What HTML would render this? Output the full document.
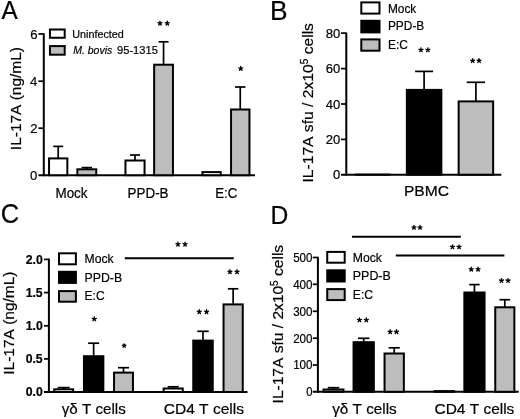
<!DOCTYPE html>
<html><head><meta charset="utf-8"><style>
html,body{margin:0;padding:0;background:#fff;overflow:hidden;}
svg{display:block;filter:grayscale(100%);}
text{font-family:"Liberation Sans", sans-serif;fill:#000;font-kerning:none;stroke:#000;stroke-width:0.2px;}
</style></head><body>
<svg width="520" height="419" viewBox="0 0 520 419">
<rect width="520" height="419" fill="#fff"/>
<text font-size="26.02" transform="translate(1.45,19.40) scale(0.933,1)">A</text>
<line x1="43.80" y1="33.20" x2="43.80" y2="176.20" stroke="#000" stroke-width="2.0"/>
<line x1="38.40" y1="175.20" x2="255.00" y2="175.20" stroke="#000" stroke-width="2.0"/>
<line x1="38.40" y1="34.00" x2="43.80" y2="34.00" stroke="#000" stroke-width="1.7"/>
<line x1="38.40" y1="81.20" x2="43.80" y2="81.20" stroke="#000" stroke-width="1.7"/>
<line x1="38.40" y1="128.20" x2="43.80" y2="128.20" stroke="#000" stroke-width="1.7"/>
<text font-size="13.5" font-weight="normal" transform="translate(30.19,38.65) scale(0.970,1)">6</text>
<text font-size="13.5" font-weight="normal" transform="translate(30.00,85.85) scale(0.970,1)">4</text>
<text font-size="13.5" font-weight="normal" transform="translate(30.28,132.85) scale(0.970,1)">2</text>
<text font-size="13.5" font-weight="normal" transform="translate(29.93,179.80) scale(0.970,1)">0</text>
<text font-size="15.5" transform="translate(21.20,150.13) rotate(-90) scale(0.998,1)">IL-17A (ng/mL)</text>
<rect x="49.95" y="29.50" width="14.75" height="8.25" fill="#fff" stroke="#000" stroke-width="2.0"/>
<rect x="49.95" y="46.10" width="14.75" height="8.60" fill="#bdbdbd" stroke="#000" stroke-width="2.0"/>
<text font-size="11.6" font-weight="normal" font-style="normal" transform="translate(72.17,37.60) scale(0.933,1)">Uninfected</text>
<text font-size="11.6" font-weight="normal" font-style="italic" transform="translate(73.18,54.30) scale(0.906,1)">M. bovis</text>
<text font-size="11.6" font-weight="normal" font-style="normal" transform="translate(117.08,54.30) scale(0.958,1)">95-1315</text>
<line x1="58.20" y1="158.40" x2="58.20" y2="146.40" stroke="#000" stroke-width="1.7"/>
<line x1="53.20" y1="146.40" x2="63.20" y2="146.40" stroke="#000" stroke-width="1.7"/>
<rect x="49.05" y="158.40" width="18.30" height="16.80" fill="#fff" stroke="#000" stroke-width="2.0"/>
<line x1="86.80" y1="169.30" x2="86.80" y2="167.60" stroke="#000" stroke-width="1.7"/>
<line x1="81.60" y1="167.60" x2="92.00" y2="167.60" stroke="#000" stroke-width="1.7"/>
<rect x="77.35" y="169.30" width="18.90" height="5.90" fill="#bdbdbd" stroke="#000" stroke-width="2.0"/>
<line x1="135.00" y1="160.50" x2="135.00" y2="155.00" stroke="#000" stroke-width="1.7"/>
<line x1="130.00" y1="155.00" x2="140.00" y2="155.00" stroke="#000" stroke-width="1.7"/>
<rect x="125.45" y="160.50" width="19.10" height="14.70" fill="#fff" stroke="#000" stroke-width="2.0"/>
<line x1="163.55" y1="64.70" x2="163.55" y2="41.80" stroke="#000" stroke-width="1.7"/>
<line x1="158.55" y1="41.80" x2="168.55" y2="41.80" stroke="#000" stroke-width="1.7"/>
<rect x="154.15" y="64.70" width="18.80" height="110.50" fill="#bdbdbd" stroke="#000" stroke-width="2.0"/>
<rect x="202.45" y="172.10" width="18.30" height="3.10" fill="#fff" stroke="#000" stroke-width="2.0"/>
<line x1="240.25" y1="109.50" x2="240.25" y2="87.00" stroke="#000" stroke-width="1.7"/>
<line x1="235.00" y1="87.00" x2="245.50" y2="87.00" stroke="#000" stroke-width="1.7"/>
<rect x="231.05" y="109.50" width="18.40" height="65.70" fill="#bdbdbd" stroke="#000" stroke-width="2.0"/>
<path d="M159.95 23.34L159.95 21.27M159.95 23.34L161.93 22.70M159.95 23.34L161.17 25.02M159.95 23.34L158.73 25.03M159.95 23.34L157.98 22.70" stroke="#000" stroke-width="1.35" stroke-linecap="round" fill="none"/>
<path d="M167.25 23.34L167.25 21.27M167.25 23.34L169.22 22.70M167.25 23.34L168.47 25.02M167.25 23.34L166.03 25.03M167.25 23.34L165.27 22.70" stroke="#000" stroke-width="1.35" stroke-linecap="round" fill="none"/>
<path d="M240.75 68.54L240.75 66.47M240.75 68.54L242.72 67.90M240.75 68.54L241.97 70.23M240.75 68.54L239.53 70.23M240.75 68.54L238.78 67.90" stroke="#000" stroke-width="1.35" stroke-linecap="round" fill="none"/>
<text font-size="14" font-weight="normal" font-style="normal" transform="translate(55.45,198.20) scale(0.961,1)">Mock</text>
<text font-size="14" font-weight="normal" font-style="normal" transform="translate(127.50,198.10) scale(0.961,1)">PPD-B</text>
<text font-size="14" font-weight="normal" font-style="normal" transform="translate(215.21,198.00) scale(0.949,1)">E:C</text>
<text font-size="26.89" transform="translate(270.00,19.70) scale(0.981,1)">B</text>
<line x1="346.30" y1="32.60" x2="346.30" y2="175.70" stroke="#000" stroke-width="2.0"/>
<line x1="341.00" y1="174.70" x2="501.30" y2="174.70" stroke="#000" stroke-width="2.0"/>
<line x1="341.00" y1="33.10" x2="346.30" y2="33.10" stroke="#000" stroke-width="1.7"/>
<line x1="341.00" y1="68.60" x2="346.30" y2="68.60" stroke="#000" stroke-width="1.7"/>
<line x1="341.00" y1="104.00" x2="346.30" y2="104.00" stroke="#000" stroke-width="1.7"/>
<line x1="341.00" y1="139.40" x2="346.30" y2="139.40" stroke="#000" stroke-width="1.7"/>
<text font-size="13.5" font-weight="normal" transform="translate(325.75,37.75) scale(0.970,1)">80</text>
<text font-size="13.5" font-weight="normal" transform="translate(325.75,73.25) scale(0.970,1)">60</text>
<text font-size="13.5" font-weight="normal" transform="translate(325.75,108.65) scale(0.970,1)">40</text>
<text font-size="13.5" font-weight="normal" transform="translate(325.75,144.05) scale(0.970,1)">20</text>
<text font-size="13.5" font-weight="normal" transform="translate(333.03,179.30) scale(0.970,1)">0</text>
<text font-size="15.5" transform="translate(313.00,182.55) rotate(-90) scale(1.010,1)">IL-17A sfu / 2x10<tspan font-size="10" dy="-5.5">5</tspan><tspan dy="5.5"> cells</tspan></text>
<rect x="361.30" y="2.40" width="18.20" height="11.20" fill="#fff" stroke="#000" stroke-width="2.0"/>
<rect x="361.30" y="20.80" width="18.20" height="11.60" fill="#000" stroke="#000" stroke-width="2.0"/>
<rect x="361.30" y="39.40" width="18.20" height="11.30" fill="#bdbdbd" stroke="#000" stroke-width="2.0"/>
<text font-size="12.6" font-weight="normal" font-style="normal" transform="translate(387.93,12.60) scale(0.942,1)">Mock</text>
<text font-size="12.6" font-weight="normal" font-style="normal" transform="translate(387.92,30.20) scale(0.945,1)">PPD-B</text>
<text font-size="12.6" font-weight="normal" font-style="normal" transform="translate(387.92,48.60) scale(0.949,1)">E:C</text>
<rect x="355.65" y="174.60" width="33.70" height="0.10" fill="#fff" stroke="#000" stroke-width="2.0"/>
<line x1="424.10" y1="89.90" x2="424.10" y2="71.40" stroke="#000" stroke-width="1.7"/>
<line x1="415.10" y1="71.40" x2="433.10" y2="71.40" stroke="#000" stroke-width="1.7"/>
<rect x="406.85" y="89.90" width="34.50" height="84.80" fill="#000" stroke="#000" stroke-width="2.0"/>
<line x1="475.90" y1="101.40" x2="475.90" y2="82.30" stroke="#000" stroke-width="1.7"/>
<line x1="466.75" y1="82.30" x2="485.05" y2="82.30" stroke="#000" stroke-width="1.7"/>
<rect x="458.65" y="101.40" width="34.50" height="73.30" fill="#bdbdbd" stroke="#000" stroke-width="2.0"/>
<path d="M420.95 49.94L420.95 47.87M420.95 49.94L422.93 49.30M420.95 49.94L422.17 51.63M420.95 49.94L419.73 51.63M420.95 49.94L418.97 49.30" stroke="#000" stroke-width="1.35" stroke-linecap="round" fill="none"/>
<path d="M427.85 49.94L427.85 47.87M427.85 49.94L429.83 49.30M427.85 49.94L429.07 51.63M427.85 49.94L426.63 51.63M427.85 49.94L425.88 49.30" stroke="#000" stroke-width="1.35" stroke-linecap="round" fill="none"/>
<path d="M472.65 60.74L472.65 58.67M472.65 60.74L474.62 60.10M472.65 60.74L473.87 62.43M472.65 60.74L471.43 62.43M472.65 60.74L470.67 60.10" stroke="#000" stroke-width="1.35" stroke-linecap="round" fill="none"/>
<path d="M479.05 60.74L479.05 58.67M479.05 60.74L481.03 60.10M479.05 60.74L480.27 62.43M479.05 60.74L477.83 62.43M479.05 60.74L477.07 60.10" stroke="#000" stroke-width="1.35" stroke-linecap="round" fill="none"/>
<text font-size="14.6" font-weight="normal" font-style="normal" transform="translate(403.92,195.80) scale(1.071,1)">PBMC</text>
<text font-size="27.26" transform="translate(0.71,223.43) scale(0.933,1)">C</text>
<line x1="48.90" y1="258.60" x2="48.90" y2="393.00" stroke="#000" stroke-width="2.0"/>
<line x1="44.00" y1="392.00" x2="247.50" y2="392.00" stroke="#000" stroke-width="2.0"/>
<line x1="44.00" y1="259.40" x2="48.90" y2="259.40" stroke="#000" stroke-width="1.7"/>
<line x1="44.00" y1="292.60" x2="48.90" y2="292.60" stroke="#000" stroke-width="1.7"/>
<line x1="44.00" y1="325.80" x2="48.90" y2="325.80" stroke="#000" stroke-width="1.7"/>
<line x1="44.00" y1="358.90" x2="48.90" y2="358.90" stroke="#000" stroke-width="1.7"/>
<text font-size="12" font-weight="bold" transform="translate(25.79,263.53) scale(1.020,1)">2.0</text>
<text font-size="12" font-weight="bold" transform="translate(25.63,296.73) scale(1.020,1)">1.5</text>
<text font-size="12" font-weight="bold" transform="translate(25.79,329.93) scale(1.020,1)">1.0</text>
<text font-size="12" font-weight="bold" transform="translate(25.63,363.03) scale(1.020,1)">0.5</text>
<text font-size="12" font-weight="bold" transform="translate(25.79,396.10) scale(1.020,1)">0.0</text>
<text font-size="15.5" transform="translate(14.20,374.73) rotate(-90) scale(0.999,1)">IL-17A (ng/mL)</text>
<rect x="59.00" y="253.30" width="16.90" height="11.00" fill="#fff" stroke="#000" stroke-width="2.0"/>
<rect x="59.00" y="271.80" width="16.90" height="11.10" fill="#000" stroke="#000" stroke-width="2.0"/>
<rect x="59.00" y="291.10" width="16.90" height="10.60" fill="#bdbdbd" stroke="#000" stroke-width="2.0"/>
<text font-size="12.6" font-weight="normal" font-style="normal" transform="translate(84.50,263.20) scale(0.969,1)">Mock</text>
<text font-size="12.6" font-weight="normal" font-style="normal" transform="translate(84.49,281.70) scale(0.978,1)">PPD-B</text>
<text font-size="12.6" font-weight="normal" font-style="normal" transform="translate(84.51,300.20) scale(0.959,1)">E:C</text>
<line x1="63.70" y1="389.30" x2="63.70" y2="387.60" stroke="#000" stroke-width="1.7"/>
<line x1="57.70" y1="387.60" x2="69.70" y2="387.60" stroke="#000" stroke-width="1.7"/>
<rect x="54.25" y="389.30" width="18.90" height="2.70" fill="#fff" stroke="#000" stroke-width="2.0"/>
<line x1="93.65" y1="356.20" x2="93.65" y2="343.20" stroke="#000" stroke-width="1.7"/>
<line x1="88.15" y1="343.20" x2="99.15" y2="343.20" stroke="#000" stroke-width="1.7"/>
<rect x="83.95" y="356.20" width="19.40" height="35.80" fill="#000" stroke="#000" stroke-width="2.0"/>
<line x1="123.50" y1="372.60" x2="123.50" y2="367.70" stroke="#000" stroke-width="1.7"/>
<line x1="118.00" y1="367.70" x2="129.00" y2="367.70" stroke="#000" stroke-width="1.7"/>
<rect x="114.05" y="372.60" width="18.90" height="19.40" fill="#bdbdbd" stroke="#000" stroke-width="2.0"/>
<line x1="173.20" y1="388.50" x2="173.20" y2="386.80" stroke="#000" stroke-width="1.7"/>
<line x1="167.70" y1="386.80" x2="178.70" y2="386.80" stroke="#000" stroke-width="1.7"/>
<rect x="163.65" y="388.50" width="19.10" height="3.50" fill="#fff" stroke="#000" stroke-width="2.0"/>
<line x1="203.00" y1="340.60" x2="203.00" y2="331.30" stroke="#000" stroke-width="1.7"/>
<line x1="197.25" y1="331.30" x2="208.75" y2="331.30" stroke="#000" stroke-width="1.7"/>
<rect x="193.25" y="340.60" width="19.50" height="51.40" fill="#000" stroke="#000" stroke-width="2.0"/>
<line x1="233.15" y1="304.40" x2="233.15" y2="288.80" stroke="#000" stroke-width="1.7"/>
<line x1="227.90" y1="288.80" x2="238.40" y2="288.80" stroke="#000" stroke-width="1.7"/>
<rect x="223.55" y="304.40" width="19.20" height="87.60" fill="#bdbdbd" stroke="#000" stroke-width="2.0"/>
<path d="M94.30 319.00L94.30 316.87M94.30 319.00L96.33 318.34M94.30 319.00L95.55 320.72M94.30 319.00L93.05 320.72M94.30 319.00L92.27 318.34" stroke="#000" stroke-width="1.35" stroke-linecap="round" fill="none"/>
<path d="M124.15 345.72L124.15 343.85M124.15 345.72L125.93 345.14M124.15 345.72L125.25 347.22M124.15 345.72L123.05 347.23M124.15 345.72L122.38 345.14" stroke="#000" stroke-width="1.35" stroke-linecap="round" fill="none"/>
<path d="M199.25 311.84L199.25 309.77M199.25 311.84L201.23 311.20M199.25 311.84L200.47 313.52M199.25 311.84L198.03 313.52M199.25 311.84L197.28 311.20" stroke="#000" stroke-width="1.35" stroke-linecap="round" fill="none"/>
<path d="M206.55 311.84L206.55 309.77M206.55 311.84L208.52 311.20M206.55 311.84L207.77 313.52M206.55 311.84L205.33 313.52M206.55 311.84L204.57 311.20" stroke="#000" stroke-width="1.35" stroke-linecap="round" fill="none"/>
<path d="M229.95 271.84L229.95 269.77M229.95 271.84L231.93 271.20M229.95 271.84L231.17 273.52M229.95 271.84L228.73 273.52M229.95 271.84L227.98 271.20" stroke="#000" stroke-width="1.35" stroke-linecap="round" fill="none"/>
<path d="M237.05 271.84L237.05 269.77M237.05 271.84L239.02 271.20M237.05 271.84L238.27 273.52M237.05 271.84L235.83 273.52M237.05 271.84L235.07 271.20" stroke="#000" stroke-width="1.35" stroke-linecap="round" fill="none"/>
<line x1="124.80" y1="258.30" x2="233.75" y2="258.30" stroke="#000" stroke-width="2.0"/>
<path d="M177.95 244.34L177.95 242.27M177.95 244.34L179.93 243.70M177.95 244.34L179.17 246.03M177.95 244.34L176.73 246.03M177.95 244.34L175.98 243.70" stroke="#000" stroke-width="1.35" stroke-linecap="round" fill="none"/>
<path d="M185.05 244.34L185.05 242.27M185.05 244.34L187.02 243.70M185.05 244.34L186.27 246.03M185.05 244.34L183.83 246.03M185.05 244.34L183.07 243.70" stroke="#000" stroke-width="1.35" stroke-linecap="round" fill="none"/>
<text font-size="15" font-weight="normal" font-style="normal" transform="translate(61.75,414.20) scale(1.012,1)">γδ T cells</text>
<text font-size="15" font-weight="normal" font-style="normal" transform="translate(163.71,414.20) scale(1.037,1)">CD4 T cells</text>
<text font-size="25.58" transform="translate(270.48,223.60) scale(0.964,1)">D</text>
<line x1="317.90" y1="256.80" x2="317.90" y2="392.80" stroke="#000" stroke-width="2.0"/>
<line x1="312.80" y1="391.80" x2="518.70" y2="391.80" stroke="#000" stroke-width="2.0"/>
<line x1="312.80" y1="257.50" x2="317.90" y2="257.50" stroke="#000" stroke-width="1.7"/>
<line x1="312.80" y1="284.30" x2="317.90" y2="284.30" stroke="#000" stroke-width="1.7"/>
<line x1="312.80" y1="311.30" x2="317.90" y2="311.30" stroke="#000" stroke-width="1.7"/>
<line x1="312.80" y1="338.20" x2="317.90" y2="338.20" stroke="#000" stroke-width="1.7"/>
<line x1="312.80" y1="365.00" x2="317.90" y2="365.00" stroke="#000" stroke-width="1.7"/>
<text font-size="12.5" font-weight="normal" transform="translate(293.16,261.80) scale(0.930,1)">500</text>
<text font-size="12.5" font-weight="normal" transform="translate(293.16,288.60) scale(0.930,1)">400</text>
<text font-size="12.5" font-weight="normal" transform="translate(293.16,315.60) scale(0.930,1)">300</text>
<text font-size="12.5" font-weight="normal" transform="translate(293.16,342.50) scale(0.930,1)">200</text>
<text font-size="12.5" font-weight="normal" transform="translate(293.16,369.30) scale(0.930,1)">100</text>
<text font-size="12.5" font-weight="normal" transform="translate(306.28,396.10) scale(0.900,1)">0</text>
<text font-size="15.5" transform="translate(283.20,403.44) rotate(-90) scale(1.004,1)">IL-17A sfu / 2x10<tspan font-size="10" dy="-5.5">5</tspan><tspan dy="5.5"> cells</tspan></text>
<rect x="327.25" y="251.90" width="17.45" height="10.80" fill="#fff" stroke="#000" stroke-width="2.0"/>
<rect x="327.25" y="270.30" width="17.45" height="11.20" fill="#000" stroke="#000" stroke-width="2.0"/>
<rect x="327.25" y="289.10" width="17.45" height="11.00" fill="#bdbdbd" stroke="#000" stroke-width="2.0"/>
<text font-size="12.6" font-weight="normal" font-style="normal" transform="translate(352.80,261.70) scale(0.969,1)">Mock</text>
<text font-size="12.6" font-weight="normal" font-style="normal" transform="translate(352.78,280.20) scale(0.989,1)">PPD-B</text>
<text font-size="12.6" font-weight="normal" font-style="normal" transform="translate(352.80,298.60) scale(0.970,1)">E:C</text>
<line x1="333.50" y1="389.50" x2="333.50" y2="387.70" stroke="#000" stroke-width="1.7"/>
<line x1="327.80" y1="387.70" x2="339.20" y2="387.70" stroke="#000" stroke-width="1.7"/>
<rect x="323.55" y="389.50" width="19.90" height="2.30" fill="#fff" stroke="#000" stroke-width="2.0"/>
<line x1="363.70" y1="342.20" x2="363.70" y2="338.30" stroke="#000" stroke-width="1.7"/>
<line x1="357.95" y1="338.30" x2="369.45" y2="338.30" stroke="#000" stroke-width="1.7"/>
<rect x="353.55" y="342.20" width="20.30" height="49.60" fill="#000" stroke="#000" stroke-width="2.0"/>
<line x1="394.20" y1="353.50" x2="394.20" y2="347.80" stroke="#000" stroke-width="1.7"/>
<line x1="388.55" y1="347.80" x2="399.85" y2="347.80" stroke="#000" stroke-width="1.7"/>
<rect x="384.55" y="353.50" width="19.30" height="38.30" fill="#bdbdbd" stroke="#000" stroke-width="2.0"/>
<rect x="434.65" y="391.10" width="19.50" height="0.70" fill="#fff" stroke="#000" stroke-width="2.0"/>
<line x1="474.45" y1="292.50" x2="474.45" y2="284.60" stroke="#000" stroke-width="1.7"/>
<line x1="469.20" y1="284.60" x2="479.70" y2="284.60" stroke="#000" stroke-width="1.7"/>
<rect x="464.35" y="292.50" width="20.20" height="99.30" fill="#000" stroke="#000" stroke-width="2.0"/>
<line x1="504.80" y1="307.30" x2="504.80" y2="299.70" stroke="#000" stroke-width="1.7"/>
<line x1="499.40" y1="299.70" x2="510.20" y2="299.70" stroke="#000" stroke-width="1.7"/>
<rect x="495.25" y="307.30" width="19.10" height="84.50" fill="#bdbdbd" stroke="#000" stroke-width="2.0"/>
<path d="M359.45 320.04L359.45 317.97M359.45 320.04L361.43 319.40M359.45 320.04L360.67 321.72M359.45 320.04L358.23 321.72M359.45 320.04L357.47 319.40" stroke="#000" stroke-width="1.35" stroke-linecap="round" fill="none"/>
<path d="M366.35 320.04L366.35 317.97M366.35 320.04L368.33 319.40M366.35 320.04L367.57 321.72M366.35 320.04L365.13 321.72M366.35 320.04L364.38 319.40" stroke="#000" stroke-width="1.35" stroke-linecap="round" fill="none"/>
<path d="M390.15 331.84L390.15 329.77M390.15 331.84L392.12 331.20M390.15 331.84L391.37 333.52M390.15 331.84L388.93 333.52M390.15 331.84L388.17 331.20" stroke="#000" stroke-width="1.35" stroke-linecap="round" fill="none"/>
<path d="M396.45 331.84L396.45 329.77M396.45 331.84L398.43 331.20M396.45 331.84L397.67 333.52M396.45 331.84L395.23 333.52M396.45 331.84L394.47 331.20" stroke="#000" stroke-width="1.35" stroke-linecap="round" fill="none"/>
<path d="M471.25 269.34L471.25 267.27M471.25 269.34L473.23 268.70M471.25 269.34L472.47 271.02M471.25 269.34L470.03 271.02M471.25 269.34L469.27 268.70" stroke="#000" stroke-width="1.35" stroke-linecap="round" fill="none"/>
<path d="M478.05 269.34L478.05 267.27M478.05 269.34L480.03 268.70M478.05 269.34L479.27 271.02M478.05 269.34L476.83 271.02M478.05 269.34L476.07 268.70" stroke="#000" stroke-width="1.35" stroke-linecap="round" fill="none"/>
<path d="M501.45 280.64L501.45 278.57M501.45 280.64L503.43 280.00M501.45 280.64L502.67 282.32M501.45 280.64L500.23 282.32M501.45 280.64L499.47 280.00" stroke="#000" stroke-width="1.35" stroke-linecap="round" fill="none"/>
<path d="M508.05 280.64L508.05 278.57M508.05 280.64L510.03 280.00M508.05 280.64L509.27 282.32M508.05 280.64L506.83 282.32M508.05 280.64L506.07 280.00" stroke="#000" stroke-width="1.35" stroke-linecap="round" fill="none"/>
<line x1="352.00" y1="236.70" x2="460.80" y2="236.70" stroke="#000" stroke-width="2.0"/>
<path d="M413.95 227.54L413.95 225.47M413.95 227.54L415.93 226.90M413.95 227.54L415.17 229.22M413.95 227.54L412.73 229.22M413.95 227.54L411.97 226.90" stroke="#000" stroke-width="1.35" stroke-linecap="round" fill="none"/>
<path d="M420.05 227.54L420.05 225.47M420.05 227.54L422.03 226.90M420.05 227.54L421.27 229.22M420.05 227.54L418.83 229.22M420.05 227.54L418.07 226.90" stroke="#000" stroke-width="1.35" stroke-linecap="round" fill="none"/>
<line x1="395.80" y1="255.60" x2="504.40" y2="255.60" stroke="#000" stroke-width="2.0"/>
<path d="M452.45 246.94L452.45 244.87M452.45 246.94L454.43 246.30M452.45 246.94L453.67 248.62M452.45 246.94L451.23 248.62M452.45 246.94L450.47 246.30" stroke="#000" stroke-width="1.35" stroke-linecap="round" fill="none"/>
<path d="M459.05 246.94L459.05 244.87M459.05 246.94L461.03 246.30M459.05 246.94L460.27 248.62M459.05 246.94L457.83 248.62M459.05 246.94L457.07 246.30" stroke="#000" stroke-width="1.35" stroke-linecap="round" fill="none"/>
<text font-size="15" font-weight="normal" font-style="normal" transform="translate(332.15,414.20) scale(1.020,1)">γδ T cells</text>
<text font-size="15" font-weight="normal" font-style="normal" transform="translate(434.51,414.20) scale(1.031,1)">CD4 T cells</text>
</svg>
</body></html>
